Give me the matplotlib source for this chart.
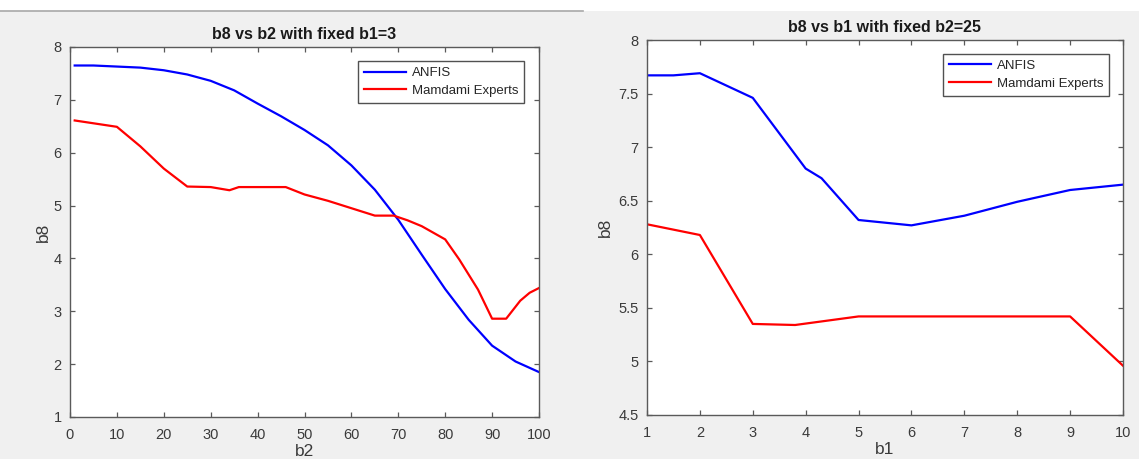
import matplotlib
matplotlib.use("Agg")
import matplotlib.pyplot as plt
from matplotlib.patches import Rectangle
from matplotlib.lines import Line2D

# ---- data ----
b2_anfis = [1, 5, 10, 15, 20, 25, 30, 35, 40, 45, 50, 55, 60, 65, 70, 75, 80, 85, 90, 95, 100]
b8_anfis_b2 = [7.65, 7.65, 7.63, 7.61, 7.56, 7.48, 7.36, 7.18, 6.93, 6.69, 6.43, 6.14, 5.76,
               5.30, 4.73, 4.07, 3.42, 2.84, 2.35, 2.05, 1.85]
b2_mam = [1, 10, 15, 20, 25, 30, 34, 36, 46, 50, 55, 60, 65, 69, 72, 75, 80, 83, 87, 90, 93, 96, 98, 100]
b8_mam_b2 = [6.61, 6.49, 6.12, 5.70, 5.36, 5.35, 5.29, 5.35, 5.35, 5.21, 5.09, 4.95, 4.81, 4.81,
             4.72, 4.61, 4.36, 3.98, 3.41, 2.86, 2.86, 3.20, 3.35, 3.44]

b1_anfis = [1, 1.5, 2, 3, 4, 4.3, 5, 6, 7, 8, 9, 10]
b8_anfis_b1 = [7.67, 7.67, 7.69, 7.46, 6.80, 6.71, 6.32, 6.27, 6.36, 6.49, 6.60, 6.65]
b1_mam = [1, 2, 3, 3.8, 5, 9, 10]
b8_mam_b1 = [6.28, 6.18, 5.35, 5.34, 5.42, 5.42, 4.96]

series_labels = ["ANFIS", "Mamdami Experts"]
titles = ["b8 vs b2 with fixed b1=3", "b8 vs b1 with fixed b2=25"]

plt.rcParams['font.family'] = ['Liberation Sans', 'DejaVu Sans']

W, H = 1139, 459
fig = plt.figure(figsize=(W / 100, H / 100), dpi=100)
fig.patch.set_facecolor('#f0f0f0')
fig.patches.append(Rectangle((0, 1 - 11 / H), 1, 11 / H, transform=fig.transFigure,
                             facecolor='white', edgecolor='none', zorder=0))
fig.lines.append(Line2D([0, 583 / W], [1 - 11 / H, 1 - 11 / H], transform=fig.transFigure,
                        color='#a8a8a8', lw=1.2))

def px_axes(x0, x1, ytop, ybot):
    return [x0 / W, 1 - ybot / H, (x1 - x0) / W, (ybot - ytop) / H]

ax1 = fig.add_axes(px_axes(70, 539, 47, 417))
ax2 = fig.add_axes(px_axes(647, 1123, 40, 415))

spine_c = '#5a5a5a'
text_c = '#3a3a3a'

def style(ax):
    ax.set_facecolor('white')
    for s in ax.spines.values():
        s.set_color(spine_c)
        s.set_linewidth(1.0)
    ax.tick_params(direction='in', length=3.5, width=0.9, color=spine_c,
                   labelcolor=text_c, labelsize=10.5, top=True, right=True)
    ax.tick_params(axis='x', pad=8)
    ax.tick_params(axis='y', pad=6)

ax1.plot(b2_anfis, b8_anfis_b2, color='#0000ff', lw=1.6, label=series_labels[0])
ax1.plot(b2_mam, b8_mam_b2, color='#ff0000', lw=1.6, label=series_labels[1])
ax1.set_xlim(0, 100)
ax1.set_ylim(1, 8)
ax1.set_xticks(range(0, 101, 10))
ax1.set_yticks(range(1, 9))
ax1.set_xlabel("b2", fontsize=12.5, color=text_c, labelpad=1)
ax1.set_ylabel("b8", fontsize=12.5, color=text_c, labelpad=2)
ax1.set_title(titles[0], fontsize=11.5, fontweight='bold', color='#1a1a1a', pad=6)
style(ax1)

ax2.plot(b1_anfis, b8_anfis_b1, color='#0000ff', lw=1.6, label=series_labels[0])
ax2.plot(b1_mam, b8_mam_b1, color='#ff0000', lw=1.6, label=series_labels[1])
ax2.set_xlim(1, 10)
ax2.set_ylim(4.5, 8)
ax2.set_xticks(range(1, 11))
ax2.set_yticks([4.5, 5, 5.5, 6, 6.5, 7, 7.5, 8])
ax2.set_yticklabels(["4.5", "5", "5.5", "6", "6.5", "7", "7.5", "8"])
ax2.set_xlabel("b1", fontsize=12.5, color=text_c, labelpad=1)
ax2.set_ylabel("b8", fontsize=12.5, color=text_c, labelpad=4)
ax2.set_title(titles[1], fontsize=11.5, fontweight='bold', color='#1a1a1a', pad=6)
style(ax2)

for ax, anchor in ((ax1, (0.968, 0.962)), (ax2, (0.971, 0.963))):
    leg = ax.legend(loc='upper right', bbox_to_anchor=anchor, borderaxespad=0,
                    fontsize=9.5, frameon=True, fancybox=False, handlelength=3.2,
                    handletextpad=0.4, borderpad=0.45, labelspacing=0.42)
    leg.get_frame().set_edgecolor('#262626')
    leg.get_frame().set_linewidth(1.0)
    for t in leg.get_texts():
        t.set_color('#262626')

fig.savefig("out.png", dpi=100, facecolor=fig.get_facecolor())
